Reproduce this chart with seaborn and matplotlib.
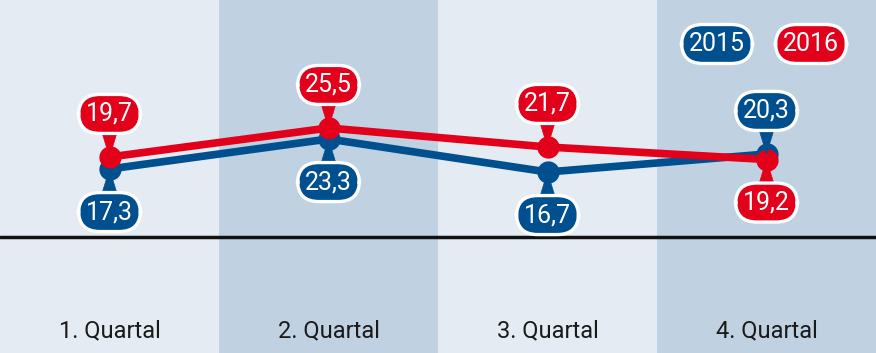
import matplotlib
matplotlib.use("Agg")
import matplotlib.pyplot as plt
import seaborn as sns
import pandas as pd

categories = ["1. Quartal", "2. Quartal", "3. Quartal", "4. Quartal"]
years = ["2015", "2016"]
values_2015 = [17.3, 23.3, 16.7, 20.3]
values_2016 = [19.7, 25.5, 21.7, 19.2]
# label placement: +1 above point, -1 below point
label_side_2015 = [-1, -1, -1, 1]
label_side_2016 = [1, 1, 1, -1]

colors = {"2015": "#004f8f", "2016": "#e2001a"}
bg_light = "#e4ebf3"
bg_dark = "#c0d2e2"

df = pd.DataFrame({
    "Quartal": categories * 2,
    "x": list(range(len(categories))) * 2,
    "Jahr": [years[0]] * 4 + [years[1]] * 4,
    "Wert": values_2015 + values_2016,
})

sns.set_theme(style="white")
plt.rcParams["font.family"] = ["Roboto", "DejaVu Sans"]

fig = plt.figure(figsize=(8.76, 3.53), dpi=100)
ax = fig.add_axes([0, 0, 1, 1])

for i in range(len(categories)):
    ax.axvspan(i - 0.5, i + 0.5, color=bg_light if i % 2 == 0 else bg_dark, zorder=0, lw=0)

sns.lineplot(data=df, x="x", y="Wert", hue="Jahr", palette=colors,
             hue_order=["2015", "2016"], lw=5.5, ax=ax, legend=False,
             marker="o", markersize=16, markeredgewidth=0, zorder=3)

ax.axhline(3.7, color="#111111", lw=2.5, zorder=2)

box = dict(boxstyle="round,pad=0.3,rounding_size=0.85", ec="white", lw=2.4)

label_sets = [("2015", values_2015, label_side_2015), ("2016", values_2016, label_side_2016)]
for year, vals, sides in label_sets:
    c = colors[year]
    for i, v in enumerate(vals):
        ax.annotate(f"{v:.1f}".replace(".", ","), xy=(i, v), xytext=(0, 31 * sides[i]),
                    textcoords="offset points", ha="center", va="center",
                    fontsize=18, color="white", zorder=5,
                    bbox=dict(box, fc=c),
                    arrowprops=dict(arrowstyle="wedge,tail_width=0.55,shrink_factor=0.5",
                                    fc=c, ec=c, lw=0.5, shrinkA=0, shrinkB=0))

# legend boxes
for j, year in enumerate(years):
    ax.text(717 / 876 + j * 94 / 876, 1 - 44 / 353, year, transform=ax.transAxes,
            ha="center", va="center", fontsize=18, color="white", zorder=6,
            bbox=dict(box, fc=colors[year]))

for i, cat in enumerate(categories):
    ax.text(i, -15.0, cat, ha="center", va="center", fontsize=17, color="#1a1a1a")

ax.set_xlim(-0.5, 3.5)
ax.set_ylim(-19.5, 51.1)
ax.set_axis_off()

fig.savefig("out.png", dpi=100)
